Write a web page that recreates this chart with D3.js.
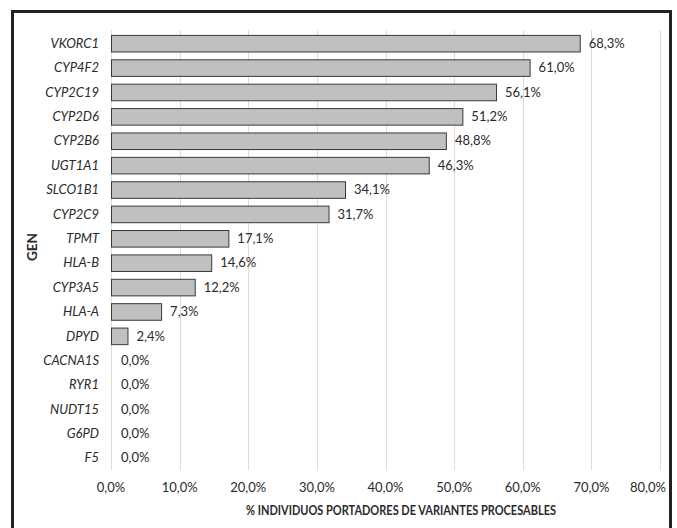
<!DOCTYPE html>
<html>
<head>
<meta charset="utf-8">
<script src="https://cdn.jsdelivr.net/npm/d3@7"></script>
<style>
	body { margin: 0; background: #fff; }
	text { font-family: Lato, "Open Sans", sans-serif; fill: #2a2a2a; }
</style>
</head>
<body>
<div id="chart"></div>
<script>
var genes = ["VKORC1", "CYP4F2", "CYP2C19", "CYP2D6", "CYP2B6", "UGT1A1", "SLCO1B1", "CYP2C9",
	"TPMT", "HLA-B", "CYP3A5", "HLA-A", "DPYD", "CACNA1S", "RYR1", "NUDT15", "G6PD", "F5"];
var percents = [68.3, 61.0, 56.1, 51.2, 48.8, 46.3, 34.1, 31.7, 17.1, 14.6, 12.2, 7.3, 2.4, 0, 0, 0, 0, 0];
var xTicks = [0, 10, 20, 30, 40, 50, 60, 70, 80];

var data = genes.map(function (g, i) {
	return { gen: g, value: percents[i] };
});

var width = 677, height = 528;

var svg = d3.select("#chart")
	.append("svg")
	.attr("width", width)
	.attr("height", height);

// outer frame
svg.append("rect")
	.attr("x", 12.5)
	.attr("y", 11.5)
	.attr("width", 658)
	.attr("height", 530)
	.attr("fill", "none")
	.attr("stroke", "#222")
	.attr("stroke-width", 3);

var plotTop = 31, plotBottom = 470;

var x = d3.scaleLinear()
	.domain([0, 80])
	.range([111, 660]);

var y = d3.scaleBand()
	.domain(genes)
	.range([plotTop, plotBottom])
	.paddingInner(0.32)
	.paddingOuter(0.16);

// gridlines
svg.append("g")
	.selectAll("line")
	.data(xTicks)
	.enter()
	.append("line")
	.attr("x1", function (d) { return Math.round(x(d)) + 0.5; })
	.attr("x2", function (d) { return Math.round(x(d)) + 0.5; })
	.attr("y1", plotTop - 1)
	.attr("y2", plotBottom)
	.attr("stroke", "#dcdcdc")
	.attr("stroke-width", 1);

// x tick labels
svg.append("g")
	.selectAll("text")
	.data(xTicks)
	.enter()
	.append("text")
	.attr("x", function (d) { return d === 80 ? 666 : x(d); })
	.attr("y", 492)
	.attr("text-anchor", function (d) { return d === 80 ? "end" : "middle"; })
	.style("font-size", "13px")
	.text(function (d) { return d.toFixed(1).replace(".", ",") + "%"; });

// bars
svg.append("g")
	.selectAll("rect")
	.data(data.filter(function (d) { return d.value > 0; }))
	.enter()
	.append("rect")
	.attr("x", x(0) + 0.5)
	.attr("y", function (d) { return y(d.gen) + 0.5; })
	.attr("width", function (d) { return x(d.value) - x(0); })
	.attr("height", y.bandwidth())
	.attr("fill", "#c0c0c0")
	.attr("stroke", "#3a3a3a")
	.attr("stroke-width", 1);

// value labels
svg.append("g")
	.selectAll("text")
	.data(data)
	.enter()
	.append("text")
	.attr("x", function (d) { return x(d.value) + (d.value > 0 ? 9 : 10); })
	.attr("y", function (d) { return y(d.gen) + y.bandwidth() / 2; })
	.attr("dy", "0.36em")
	.style("font-size", "13px")
	.text(function (d) { return d.value.toFixed(1).replace(".", ",") + "%"; });

// gene labels
svg.append("g")
	.selectAll("text")
	.data(genes)
	.enter()
	.append("text")
	.attr("x", 99)
	.attr("y", function (d) { return y(d) + y.bandwidth() / 2; })
	.attr("dy", "0.36em")
	.attr("text-anchor", "end")
	.style("font-size", "13px")
	.style("font-style", "italic")
	.text(function (d) { return d; });

// axis titles
svg.append("text")
	.attr("x", 401)
	.attr("y", 515)
	.attr("text-anchor", "middle")
	.attr("textLength", 310)
	.attr("lengthAdjust", "spacingAndGlyphs")
	.style("font-size", "12.5px")
	.style("font-weight", "bold")
	.text("% INDIVIDUOS PORTADORES DE VARIANTES PROCESABLES");

svg.append("text")
	.attr("transform", "translate(37,247) rotate(-90)")
	.attr("text-anchor", "middle")
	.style("font-size", "13.5px")
	.style("font-weight", "bold")
	.text("GEN");
</script>
</body>
</html>
